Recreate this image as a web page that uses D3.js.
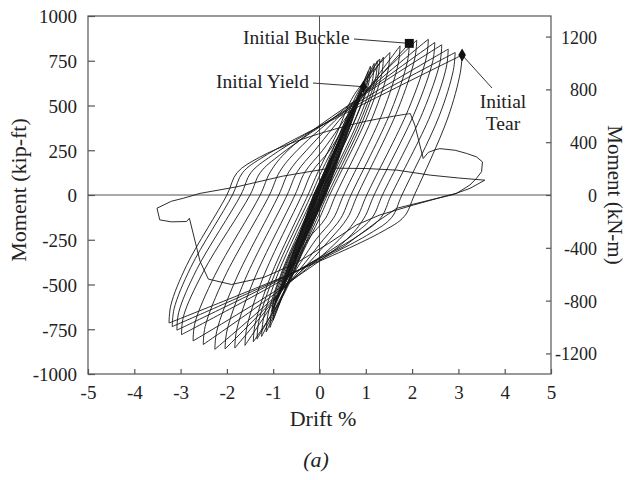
<!DOCTYPE html>
<html>
<head>
<meta charset="utf-8">
<script src="https://d3js.org/d3.v7.min.js"></script>
<style>
  body { margin: 0; background: #fff; }
  text { font-family: "Liberation Serif", "Times New Roman", serif; fill: #222; }
</style>
</head>
<body>
<div id="chart"></div>
<script>
// ---- values (drift %, moment kip-ft) ----
var driftTicks = [-5, -4, -3, -2, -1, 0, 1, 2, 3, 4, 5];
var kipTicks = [-1000, -750, -500, -250, 0, 250, 500, 750, 1000];
var knTicks = [-1200, -800, -400, 0, 400, 800, 1200];

// small nearly elastic cycles (peak, zero crossing, trough, zero crossing)
var elasticLoops = [
  [[0.25, 175], [0.02, 0], [-0.27, -182], [-0.02, 0]],
  [[0.38, 262], [0.03, 0], [-0.41, -270], [-0.03, 0]],
  [[0.50, 338], [0.04, 0], [-0.53, -348], [-0.04, 0]],
  [[0.52, 342], [0.06, 0], [-0.55, -355], [-0.05, 0]],
  [[0.63, 415], [0.06, 0], [-0.67, -432], [-0.06, 0]],
  [[0.65, 420], [0.08, 0], [-0.69, -445], [-0.07, 0]],
  [[0.76, 492], [0.08, 0], [-0.80, -512], [-0.08, 0]],
  [[0.78, 498], [0.10, 0], [-0.83, -530], [-0.09, 0]],
  [[0.88, 560], [0.10, 0], [-0.92, -585], [-0.10, 0]],
  [[0.90, 565], [0.12, 0], [-0.95, -600], [-0.11, 0]],
  [[0.95, 602], [0.12, 0], [-1.00, -630], [-0.12, 0]],
  [[0.97, 610], [0.14, 0], [-1.02, -650], [-0.13, 0]]
];

// unloading branches: positive peak -> trough
var unloadBranches = [
  [[1.05, 690], [1.01, 595], [0.70, 380], [0.02, 0], [-0.20, -135], [-0.55, -395], [-1.00, -700]],
  [[1.10, 720], [1.06, 620], [0.73, 396], [0.00, 0], [-0.22, -140], [-0.56, -400], [-1.07, -740]],
  [[1.18, 735], [1.14, 635], [0.82, 405], [0.08, 0], [-0.14, -135], [-0.55, -415], [-1.15, -765]],
  [[1.25, 750], [1.21, 650], [0.88, 412], [0.12, 0], [-0.10, -135], [-0.54, -420], [-1.25, -790]],
  [[1.30, 760], [1.26, 660], [0.94, 418], [0.17, 0], [-0.05, -130], [-0.45, -360], [-0.85, -580], [-1.35, -805]],
  [[1.38, 770], [1.34, 670], [1.01, 424], [0.22, 0], [0.00, -130], [-0.38, -330], [-0.78, -560], [-1.43, -820]],
  [[1.52, 796], [1.48, 696], [1.15, 438], [0.35, 0], [0.13, -130], [-0.25, -250], [-0.79, -516], [-1.61, -840]],
  [[1.74, 833], [1.70, 733], [1.36, 458], [0.52, 0], [0.30, -130], [-0.08, -250], [-0.78, -520], [-1.83, -855]],
  [[1.94, 847], [1.90, 747], [1.54, 466], [0.68, 0], [0.46, -130], [0.08, -250], [-0.77, -522], [-2.04, -860]],
  [[2.10, 865], [2.06, 765], [1.69, 476], [0.82, 0], [0.60, -130], [0.22, -250], [-0.77, -522], [-2.26, -862]],
  [[2.35, 870], [2.31, 770], [1.92, 478], [1.02, 0], [0.80, -130], [0.42, -250], [-0.75, -510], [-2.51, -835]],
  [[2.49, 852], [2.45, 752], [2.07, 469], [1.18, 0], [0.96, -130], [0.58, -250], [-0.74, -500], [-2.73, -815]],
  [[2.64, 839], [2.60, 739], [2.23, 461], [1.36, 0], [1.14, -125], [0.71, -225], [-0.77, -470], [-2.98, -780]],
  [[2.78, 815], [2.74, 715], [2.40, 448], [1.55, 0], [1.33, -125], [0.88, -220], [-0.70, -452], [-3.08, -755]],
  [[2.93, 796], [2.89, 696], [2.58, 438], [1.78, 0], [1.56, -125], [1.09, -215], [-0.62, -440], [-3.18, -735]],
  [[3.08, 782], [3.04, 682], [2.77, 430], [2.05, 0], [1.83, -120], [1.35, -205], [-0.49, -425], [-3.25, -715]]
];

// reloading branches: trough -> next positive peak
var reloadBranches = [
  [[-1.02, -660], [-0.98, -570], [-0.69, -363], [-0.02, 0], [0.20, 140], [0.60, 400], [1.10, 720]],
  [[-1.00, -700], [-0.96, -605], [-0.68, -385], [-0.03, 0], [0.19, 138], [0.58, 405], [1.05, 690]],
  [[-1.07, -740], [-1.03, -640], [-0.74, -407], [-0.05, 0], [0.17, 135], [0.59, 413], [1.25, 750]],
  [[-1.15, -765], [-1.11, -665], [-0.80, -420], [-0.08, 0], [0.14, 132], [0.59, 420], [1.18, 735]],
  [[-1.25, -790], [-1.21, -690], [-0.89, -435], [-0.12, 0], [0.10, 130], [0.59, 430], [1.38, 770]],
  [[-1.35, -805], [-1.31, -705], [-0.97, -443], [-0.18, 0], [0.04, 130], [0.42, 330], [0.80, 560], [1.30, 760]],
  [[-1.43, -820], [-1.39, -720], [-1.05, -451], [-0.25, 0], [-0.03, 130], [0.35, 330], [0.75, 560], [1.52, 796]],
  [[-1.61, -840], [-1.57, -740], [-1.22, -462], [-0.38, 0], [-0.16, 130], [0.22, 250], [0.83, 511], [1.74, 833]],
  [[-1.83, -855], [-1.79, -755], [-1.41, -470], [-0.53, 0], [-0.31, 130], [0.07, 250], [0.82, 517], [1.94, 847]],
  [[-2.04, -860], [-2.00, -760], [-1.61, -473], [-0.70, 0], [-0.48, 130], [-0.10, 250], [0.78, 524], [2.10, 865]],
  [[-2.26, -862], [-2.22, -762], [-1.81, -474], [-0.88, 0], [-0.66, 130], [-0.28, 250], [0.77, 524], [2.35, 870]],
  [[-2.51, -835], [-2.47, -735], [-2.05, -459], [-1.08, 0], [-0.86, 130], [-0.48, 250], [0.71, 515], [2.49, 852]],
  [[-2.73, -815], [-2.69, -715], [-2.26, -448], [-1.28, 0], [-1.06, 130], [-0.68, 250], [0.65, 506], [2.64, 839]],
  [[-2.98, -780], [-2.94, -680], [-2.51, -429], [-1.50, 0], [-1.28, 125], [-0.85, 225], [0.60, 480], [2.78, 815]],
  [[-3.08, -755], [-3.04, -655], [-2.65, -415], [-1.70, 0], [-1.48, 125], [-1.03, 220], [0.55, 465], [2.93, 796]],
  [[-3.18, -735], [-3.14, -635], [-2.78, -404], [-1.88, 0], [-1.66, 125], [-1.20, 215], [0.51, 450], [3.08, 782]]
];

// last cycle after the tear
var failRise = [[-3.25, -715], [-3.21, -615], [-2.87, -393], [-2.00, 0], [-1.78, 125],
  [-1.30, 210], [-0.50, 300], [0.80, 400], [1.60, 440], [1.96, 455]];
var failTail = [[1.96, 455], [2.06, 389], [2.24, 204], [2.35, 238], [2.49, 252], [2.60, 259],
  [2.93, 250], [3.18, 232], [3.39, 213], [3.52, 185], [3.50, 130], [3.39, 93], [3.25, 56],
  [2.96, 9], [2.75, -4], [2.03, -56], [1.31, -111], [0.80, -167], [0.20, -270], [-0.50, -380],
  [-1.20, -460], [-1.90, -500], [-2.40, -470], [-2.58, -370], [-2.81, -130], [-2.87, -148],
  [-3.20, -150], [-3.45, -139], [-3.51, -74], [-3.20, -35], [-2.94, -18], [-2.58, 9],
  [-1.80, 45], [-0.80, 105], [0.23, 150], [1.00, 148], [1.67, 139], [2.39, 111], [3.00, 95],
  [3.57, 83], [3.25, 37], [2.85, 0], [2.39, -28], [1.67, -74], [1.24, -150], [0.51, -290],
  [-0.20, -380], [-0.80, -520]];

var markerNames = ["Initial Yield", "Initial Buckle", "Initial Tear"];
var markerDrift = [0.95, 1.94, 3.08];
var markerMoment = [605, 847, 782];

// ---- chart ----
var width = 629, height = 480;
var x = d3.scaleLinear().domain([-5, 5]).range([88, 551]);
var y = d3.scaleLinear().domain([-1000, 1000]).range([374, 16]);
var yKN = d3.scaleLinear().domain([-1355.8, 1355.8]).range([374, 16]);

var svg = d3.select("#chart").append("svg")
    .attr("width", width)
    .attr("height", height);

// zero lines
svg.append("line")
    .attr("x1", x(-5)).attr("x2", x(5)).attr("y1", y(0)).attr("y2", y(0))
    .attr("stroke", "#555").attr("stroke-width", 1);
svg.append("line")
    .attr("x1", x(0)).attr("x2", x(0)).attr("y1", y(1000)).attr("y2", y(-1000))
    .attr("stroke", "#555").attr("stroke-width", 1);

var line = d3.line().x(d => x(d[0])).y(d => y(d[1]));
var curvy = d3.line().x(d => x(d[0])).y(d => y(d[1])).curve(d3.curveCatmullRom.alpha(0.5));

var loops = svg.append("g")
    .attr("fill", "none")
    .attr("stroke", "#151515")
    .attr("stroke-width", 0.9)
    .attr("stroke-linejoin", "round");

loops.selectAll("path.el")
  .data(elasticLoops)
  .join("path")
    .attr("class", "el")
    .attr("d", d => line(d.concat([d[0]])));

loops.selectAll("path.un")
  .data(unloadBranches)
  .join("path")
    .attr("class", "un")
    .attr("d", curvy);

loops.selectAll("path.re")
  .data(reloadBranches)
  .join("path")
    .attr("class", "re")
    .attr("d", curvy);

loops.append("path").attr("d", curvy(failRise));
loops.append("path").attr("d", line(failTail));

// frame
svg.append("rect")
    .attr("x", x(-5)).attr("y", y(1000))
    .attr("width", x(5) - x(-5)).attr("height", y(-1000) - y(1000))
    .attr("fill", "none").attr("stroke", "#555").attr("stroke-width", 1.2);

// axes
var gl = svg.append("g")
    .attr("transform", `translate(${x(-5)},0)`)
    .call(d3.axisLeft(y).tickValues(kipTicks).tickSize(-7).tickPadding(11).tickFormat(d => String(d)));
var gr = svg.append("g")
    .attr("transform", `translate(${x(5)},0)`)
    .call(d3.axisRight(yKN).tickValues(knTicks).tickSize(-5).tickFormat(d => String(d)));
var gb = svg.append("g")
    .attr("transform", `translate(0,${y(-1000)})`)
    .call(d3.axisBottom(x).tickValues(driftTicks).tickSize(-5).tickFormat(d => String(d)));

[gl, gr, gb].forEach(g => {
  g.select(".domain").remove();
  g.selectAll(".tick line").attr("stroke", "#555").attr("stroke-width", 1.2);
  g.selectAll("text")
      .attr("font-family", "Liberation Serif, serif")
      .attr("fill", "#222");
});
gl.selectAll("text").attr("font-size", 19).attr("dy", "0.36em");
gr.selectAll("text").attr("font-size", 18).attr("x", 46).attr("dy", "0.36em")
    .attr("text-anchor", "end");
gb.selectAll("text").attr("font-size", 19).attr("y", 25).attr("dy", 0);

// axis titles
svg.append("text")
    .attr("transform", "translate(26,190) rotate(-90)")
    .attr("text-anchor", "middle")
    .attr("font-size", 22)
    .text("Moment (kip-ft)");
svg.append("text")
    .attr("transform", "translate(608,195) rotate(90)")
    .attr("text-anchor", "middle")
    .attr("font-size", 21)
    .text("Moment (kN-m)");
svg.append("text")
    .attr("x", 323).attr("y", 426)
    .attr("text-anchor", "middle")
    .attr("font-size", 22)
    .text("Drift %");
svg.append("text")
    .attr("x", 316).attr("y", 467)
    .attr("text-anchor", "middle")
    .attr("font-size", 22)
    .attr("font-style", "italic")
    .text("(a)");

// markers with leaders
var ann = svg.append("g").attr("stroke", "#333").attr("stroke-width", 1);
ann.append("line")
    .attr("x1", 313).attr("y1", 83)
    .attr("x2", x(markerDrift[0])).attr("y2", y(markerMoment[0]));
ann.append("line")
    .attr("x1", 354).attr("y1", 39)
    .attr("x2", x(markerDrift[1])).attr("y2", y(markerMoment[1]));
ann.append("line")
    .attr("x1", x(markerDrift[2])).attr("y1", y(markerMoment[2]))
    .attr("x2", 492).attr("y2", 88);

svg.append("path")
    .attr("transform", `translate(${x(markerDrift[0])},${y(markerMoment[0])})`)
    .attr("d", d3.symbol(d3.symbolDiamond, 45))
    .attr("fill", "#111");
svg.append("path")
    .attr("transform", `translate(${x(markerDrift[1])},${y(markerMoment[1])})`)
    .attr("d", d3.symbol(d3.symbolSquare, 80))
    .attr("fill", "#111");
svg.append("path")
    .attr("transform", `translate(${x(markerDrift[2])},${y(markerMoment[2])})`)
    .attr("d", d3.symbol(d3.symbolDiamond, 50))
    .attr("fill", "#111");

svg.append("text")
    .attr("x", 216).attr("y", 88)
    .attr("font-size", 19.5)
    .text(markerNames[0]);
svg.append("text")
    .attr("x", 243).attr("y", 44)
    .attr("font-size", 19.5)
    .text(markerNames[1]);
var tear = svg.append("text")
    .attr("text-anchor", "middle")
    .attr("font-size", 19.5);
tear.append("tspan").attr("x", 503).attr("y", 108).text(markerNames[2].split(" ")[0]);
tear.append("tspan").attr("x", 503).attr("y", 130).text(markerNames[2].split(" ")[1]);
</script>
</body>
</html>
